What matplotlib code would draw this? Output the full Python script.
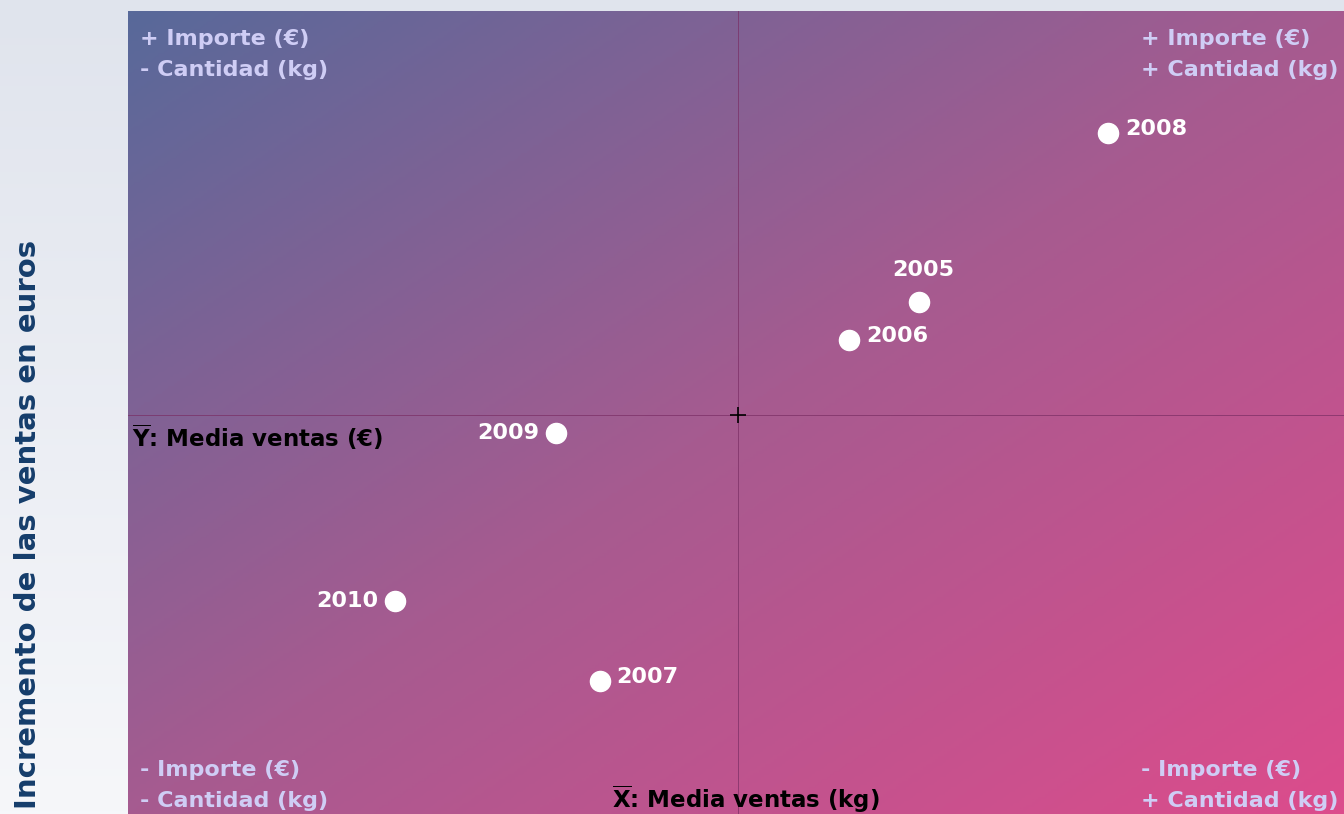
import matplotlib
matplotlib.use('Agg')
import matplotlib.pyplot as plt
import numpy as np
from matplotlib.colors import LinearSegmentedColormap

plt.rcParams['font.family'] = ['DejaVu Sans']
plt.rcParams['mathtext.fontset'] = 'dejavusans'

# data: deviation from mean (kg on x, euros on y), arbitrary units
years = ['2005', '2006', '2007', '2008', '2009', '2010']
qty_dev = [29.8, 18.3, -22.7, 60.9, -29.9, -56.4]
amount_dev = [28.1, 18.7, -66.3, 70.2, -4.5, -46.3]
# where each year label sits relative to its point
label_side = ['top', 'right', 'right', 'right', 'left', 'left']

quadrant_text = ['+ Importe (€)\n- Cantidad (kg)', '+ Importe (€)\n+ Cantidad (kg)',
                 '- Importe (€)\n- Cantidad (kg)', '- Importe (€)\n+ Cantidad (kg)']

W, H = 1344, 814
fig = plt.figure(figsize=(W / 100, H / 100), dpi=100)

# light page background
bg = fig.add_axes([0, 0, 1, 1], zorder=-5)
bg_cmap = LinearSegmentedColormap.from_list('bg', ['#f6f7fa', '#e0e4ed'])
bg.imshow(np.linspace(0, 1, 256).reshape(-1, 1)[::-1], aspect='auto', cmap=bg_cmap,
          extent=[0, 1, 0, 1], origin='upper')
bg.axis('off')

ax = fig.add_axes([128 / W, 0, 1216 / W, 803 / H])
x0, x1 = -610 / 6.08, 606 / 6.08
y0, y1 = -399 / 4.015, 404 / 4.015
ax.set_xlim(x0, x1)
ax.set_ylim(y0, y1)

# diagonal gradient fill
grad_cmap = LinearSegmentedColormap.from_list('grad', ['#58699a', '#a65b90', '#dc4c8c'])
u = np.linspace(0, 1, 400)
v = np.linspace(0, 1, 300)
U, V = np.meshgrid(u, v)
ax.imshow((U + V) / 2, extent=[x0, x1, y0, y1], origin='upper', aspect='auto',
          cmap=grad_cmap, zorder=0)

ax.axhline(0, color='#7a2d64', lw=0.7, alpha=0.7, zorder=1)
ax.axvline(0, color='#7a2d64', lw=0.7, alpha=0.7, zorder=1)
ax.plot(0, 0, marker='+', color='black', ms=11, mew=1.2, zorder=2)

ax.scatter(qty_dev, amount_dev, s=210, color='white', zorder=3)

offsets = {'top': (3, 16, 'center', 'bottom'),
           'right': (12, 3, 'left', 'center'),
           'left': (-12, 0, 'right', 'center')}
for yr, xv, yv, side in zip(years, qty_dev, amount_dev, label_side):
    dx, dy, ha, va = offsets[side]
    ax.annotate(yr, (xv, yv), xytext=(dx, dy), textcoords='offset points',
                ha=ha, va=va, color='white', fontsize=16, fontweight='bold', zorder=4)

qcol = '#cfcdf5'
qkw = dict(transform=ax.transAxes, color=qcol, fontsize=16, fontweight='bold',
           linespacing=1.7, multialignment='left')
ax.text(0.01, 0.978, quadrant_text[0], ha='left', va='top', **qkw)
ax.text(0.995, 0.978, quadrant_text[1], ha='right', va='top', **qkw)
ax.text(0.01, 0.004, quadrant_text[2], ha='left', va='bottom', **qkw)
ax.text(0.995, 0.004, quadrant_text[3], ha='right', va='bottom', **qkw)

ax.text(0.003, -5.5, r'$\mathbf{\overline{Y}}$: Media ventas (€)', transform=ax.get_yaxis_transform(),
        ha='left', va='center', color='black', fontsize=16.5, fontweight='bold', zorder=4)
ax.text(-20.7, -0.001, r'$\mathbf{\overline{X}}$: Media ventas (kg)', transform=ax.get_xaxis_transform(),
        ha='left', va='bottom', color='black', fontsize=16.5, fontweight='bold', zorder=4)

ax.set_xticks([])
ax.set_yticks([])
for s in ax.spines.values():
    s.set_visible(False)

fig.text(28 / W, (H - 240) / H, 'Incremento de las ventas en euros', rotation=90,
         ha='center', va='top', color='#153d6b', fontsize=21, fontweight='bold')

fig.savefig('out.png', dpi=100)
